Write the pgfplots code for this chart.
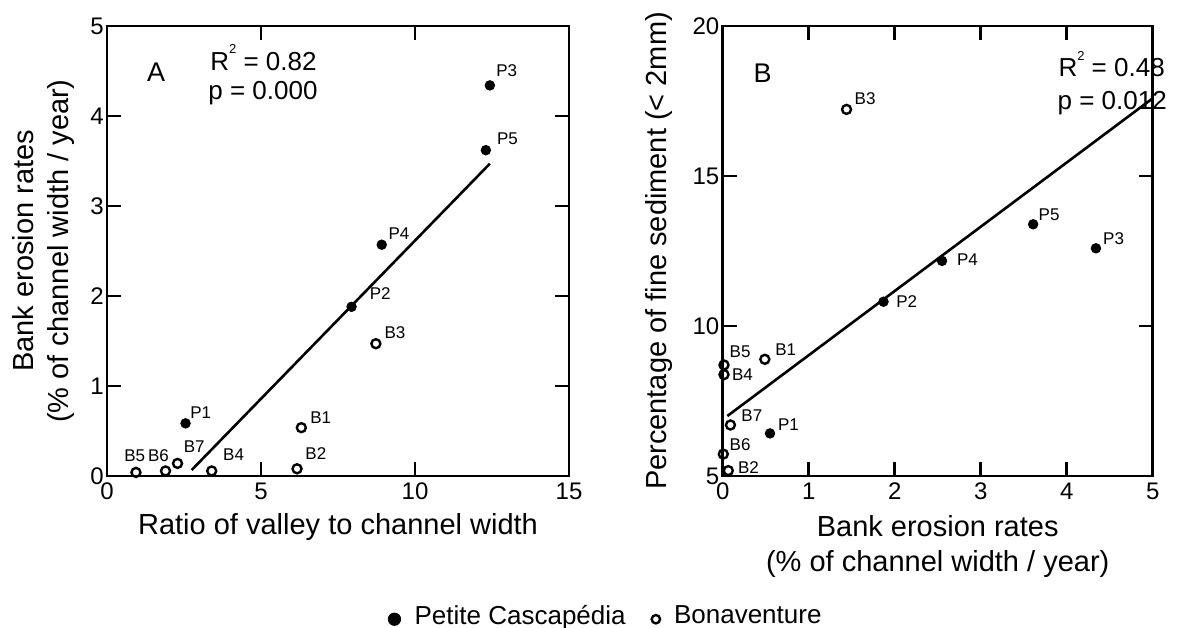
\documentclass[border=0pt]{standalone}
\usepackage{fontspec}
\setmainfont{Liberation Sans}
\usepackage{pgfplots}
\usepackage{pgfplotstable}
\pgfplotsset{compat=1.18}

% Panel A: ratio of valley to channel width vs bank erosion rate
\pgfplotstableread{
x y
2.55 0.585
7.94 1.88
12.43 4.34
8.92 2.57
12.30 3.62
}\tabAP
\pgfplotstableread{
x y
6.31 0.537
6.17 0.08
8.73 1.47
3.40 0.056
0.94 0.04
1.90 0.056
2.29 0.14
}\tabAB
\pgfplotstableread{
x y
2.75 0.067
12.43 3.47
}\tabAR
% Panel B: bank erosion rate vs fine sediment
\pgfplotstableread{
x y
0.55 6.42
1.87 10.81
4.34 12.59
2.55 12.17
3.61 13.39
}\tabBP
\pgfplotstableread{
x y
0.49 8.89
0.065 5.18
1.44 17.22
0.015 8.38
0.015 8.70
0.007 5.73
0.09 6.70
}\tabBB
\pgfplotstableread{
x y
0.054 7.0
5 17.59
}\tabBR

\newcommand{\sqr}{\raisebox{0.62em}{\fontsize{6.5}{6.5}\selectfont 2}}
\tikzset{
  plab/.style={font=\fontsize{8.5}{8.5}\selectfont, anchor=base west, inner sep=0pt},
  ann/.style={font=\fontsize{13}{13}\selectfont, anchor=base west, inner sep=0pt},
  panel/.style={font=\fontsize{13.5}{13.5}\selectfont, anchor=base west, inner sep=0pt},
}
\pgfplotsset{
  pfill/.style={only marks, mark=*, mark size=2.4pt, mark options={fill=black, draw=black, line width=0.4pt}},
  popen/.style={only marks, mark=o, mark size=2.25pt, mark options={draw=black, line width=1.2pt}},
  reg/.style={no marks, black, line width=1.3pt},
}

\begin{document}
\begin{tikzpicture}
\path[use as bounding box] (0,0) rectangle (599pt,313.5pt);
\pgfplotsset{
  every axis/.append style={
    scale only axis, clip=false,
    axis line style={line width=1.3pt},
    tick align=inside, major tick length=7pt,
    every tick/.style={black, line width=1.3pt},
    tick label style={font=\fontsize{12}{12}\selectfont},
    yticklabel style={inner xsep=1.5pt},
    /pgf/number format/assume math mode=true,
    label style={font=\fontsize{14.5}{17.5}\selectfont, align=center},
  },
}
\begin{axis}[at={(53.5pt,75.5pt)}, anchor=south west, width=231pt, height=225pt,
  xmin=0, xmax=15, ymin=0, ymax=5, xtick={0,5,10,15}, ytick={0,1,2,3,4,5},
  xlabel={Ratio of valley to channel width},
  ylabel={Bank erosion rates\\(\% of channel width / year)},
  xlabel style={at={(axis description cs:0.5,-0.131)}, anchor=base},
  ylabel style={at={(axis description cs:-0.1385,0.5)}, anchor=center},
  legend columns=2,
  legend style={draw=none, fill=none, at={(axis description cs:1.082,-0.3116)}, anchor=center,
    font=\fontsize{13}{13}\selectfont, legend cell align=left,
    /tikz/every odd column/.append style={column sep=5pt},
    /tikz/every even column/.append style={column sep=11pt}},
  legend image post style={yshift=-1.5pt},
]
\addplot[reg, forget plot] table {\tabAR};
\addplot[pfill, forget plot] table {\tabAP};
\addplot[popen, forget plot] table {\tabAB};
\addlegendimage{only marks, mark=*, mark size=3.1pt, mark options={fill=black, draw=black, line width=0.4pt}}
\addlegendentry{Petite Cascapédia}
\addlegendimage{only marks, mark=o, mark size=2.1pt, mark options={draw=black, line width=1.2pt}}
\addlegendentry{Bonaventure}
\node[plab] at (axis cs:12.63,4.437) {P3};
\node[plab] at (axis cs:12.65,3.686) {P5};
\node[plab] at (axis cs:9.13,2.63) {P4};
\node[plab] at (axis cs:8.52,1.956) {P2};
\node[plab] at (axis cs:9.00,1.53) {B3};
\node[plab] at (axis cs:2.69,0.641) {P1};
\node[plab] at (axis cs:6.59,0.585) {B1};
\node[plab] at (axis cs:6.43,0.185) {B2};
\node[plab] at (axis cs:3.76,0.167) {B4};
\node[plab] at (axis cs:2.48,0.263) {B7};
\node[plab] at (axis cs:1.32,0.159) {B6};
\node[plab] at (axis cs:0.55,0.159) {B5};
\node[panel] at (axis cs:1.29,4.38) {A};
\node[ann] at (axis cs:3.34,4.51) {R\sqr{} = 0.82};
\node[ann] at (axis cs:3.28,4.18) {p = 0.000};
\end{axis}

\begin{axis}[at={(361.35pt,75.5pt)}, anchor=south west, width=215pt, height=225pt,
  xmin=0, xmax=5, ymin=5, ymax=20, xtick={0,1,2,3,4,5}, ytick={5,10,15,20},
  xlabel={Bank erosion rates\\(\% of channel width / year)},
  ylabel={Percentage of fine sediment (< 2mm)},
  xlabel style={at={(axis description cs:0.5,-0.1556)}, anchor=center},
  ylabel style={at={(axis description cs:-0.148,0.5)}, anchor=center},
]
\addplot[reg] table {\tabBR};
\addplot[pfill] table {\tabBP};
\addplot[popen] table {\tabBB};
\node[plab] at (axis cs:1.53,17.37) {B3};
\node[plab] at (axis cs:3.67,13.53) {P5};
\node[plab] at (axis cs:4.42,12.7) {P3};
\node[plab] at (axis cs:2.72,12.03) {P4};
\node[plab] at (axis cs:2.015,10.61) {P2};
\node[plab] at (axis cs:0.077,8.96) {B5};
\node[plab] at (axis cs:0.608,9.03) {B1};
\node[plab] at (axis cs:0.105,8.18) {B4};
\node[plab] at (axis cs:0.213,6.81) {B7};
\node[plab] at (axis cs:0.64,6.53) {P1};
\node[plab] at (axis cs:0.077,5.84) {B6};
\node[plab] at (axis cs:0.174,5.09) {B2};
\node[panel] at (axis cs:0.356,18.1) {B};
\node[ann] at (axis cs:3.90,18.3) {R\sqr{} = 0.48};
\node[ann] at (axis cs:3.89,17.2) {p = 0.012};
\end{axis}
\end{tikzpicture}
\end{document}
